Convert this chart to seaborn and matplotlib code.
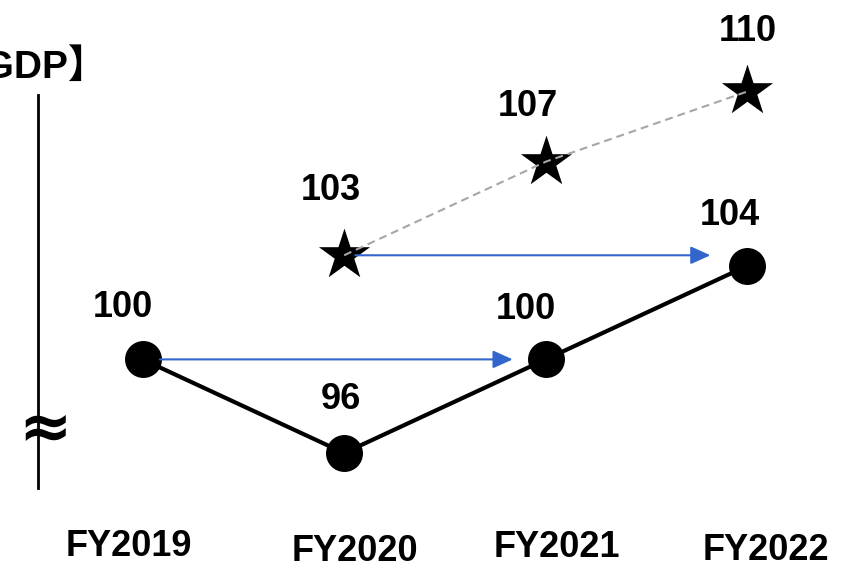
import numpy as np
import pandas as pd
import seaborn as sns
import matplotlib
matplotlib.use("Agg")
import matplotlib.pyplot as plt
from matplotlib.transforms import ScaledTranslation

# ---- data ----
categories = ["FY2019", "FY2020", "FY2021", "FY2022"]
actual_values = [100, 96, 100, 104]
star_categories = ["FY2020", "FY2021", "FY2022"]
star_values = [103, 107, 110]
title_text = "【実質GDP】"
break_mark = "≈"

sns.set_theme(style="white")
plt.rcParams["font.family"] = ["Liberation Sans", "Noto Sans CJK JP", "DejaVu Sans"]

fig = plt.figure(figsize=(8.5, 5.68), dpi=100)
ax = fig.add_axes([0, 53 / 568, 1, 515 / 568])

x_main = np.arange(len(categories))
x_star = [categories.index(c) for c in star_categories]
df_main = pd.DataFrame({"x": x_main, "v": actual_values})
df_star = pd.DataFrame({"x": x_star, "v": star_values})

sns.lineplot(data=df_main, x="x", y="v", color="black", lw=3, sort=False,
             ax=ax, zorder=2)
sns.scatterplot(data=df_main, x="x", y="v", color="black", s=708,
                linewidth=0, ax=ax, zorder=3)

arrow_style = dict(arrowstyle="-|>,head_length=1.0,head_width=0.45",
                   mutation_scale=12, color="#3366CC", lw=1.5)
ax.annotate("", xy=(x_main[2], actual_values[0]), xytext=(x_main[0], actual_values[0]),
            arrowprops=dict(**arrow_style, shrinkA=12.5, shrinkB=23.8), zorder=4)

main_offsets = [(-20, 42), (-3, 44), (-20, 40), (-18, 41)]
for xi, v, (dx, dy) in zip(x_main, actual_values, main_offsets):
    ax.annotate(f"{v}", xy=(xi, v), xytext=(dx, dy), textcoords="offset pixels",
                ha="center", va="baseline", fontsize=26, fontweight="bold",
                color="black")

ax.set_ylim(93.35, 115.36)
ax.set_xlim(-0.707, 3.509)

ax2 = ax.twinx()
sns.scatterplot(data=df_star, x="x", y="v", color="black", marker="*", s=1500,
                linewidth=0, ax=ax2, zorder=2)
sns.lineplot(data=df_star, x="x", y="v", color="#A6A6A6", lw=1.5, sort=False,
             dashes=False, ax=ax2, zorder=3).lines[-1].set_dashes((3.8, 2.4))
ax2.annotate("", xy=(x_star[-1], star_values[0]), xytext=(x_star[0], star_values[0]),
             arrowprops=dict(**arrow_style, shrinkA=8, shrinkB=26.6), zorder=4)
star_offsets = [(-13, 55), (-18, 46), (0, 50)]
for xi, v, (dx, dy) in zip(x_star, star_values, star_offsets):
    ax2.annotate(f"{v}", xy=(xi, v), xytext=(dx, dy), textcoords="offset pixels",
                 ha="center", va="baseline", fontsize=26, fontweight="bold",
                 color="black")
ax2.set_ylim(91.90, 113.91)
ax2.set_xlim(-0.707, 3.509)

# axes styling
for a in (ax, ax2):
    a.set_xlabel("")
    a.set_ylabel("")
    a.set_yticks([])
    for s in ("top", "right", "bottom"):
        a.spines[s].set_visible(False)
ax2.spines["left"].set_visible(False)
ax.spines["left"].set_position(("data", -0.519))
ax.spines["left"].set_bounds(94.50, 111.30)
ax.spines["left"].set_linewidth(2)
ax.spines["left"].set_color("black")

ax.set_xticks(x_main)
ax.set_xticklabels(categories, fontsize=26, fontweight="bold", color="black")
ax.tick_params(axis="x", length=0, pad=10)
label_shifts = [(-14, 0), (11, -5), (11, -1), (19, -4)]
for lab, (dx, dy) in zip(ax.get_xticklabels(), label_shifts):
    lab.set_transform(lab.get_transform() +
                      ScaledTranslation(dx / 100, dy / 100, fig.dpi_scale_trans))

fig.text(45 / 850, 1 - 430 / 568, break_mark, ha="center", va="center",
         fontsize=46, fontweight="bold", family="DejaVu Sans", color="black")
fig.text(107 / 850, 1 - 78 / 568, title_text, ha="right", va="baseline",
         fontsize=28, fontweight="bold", color="black")

fig.savefig("out.png", dpi=100)
